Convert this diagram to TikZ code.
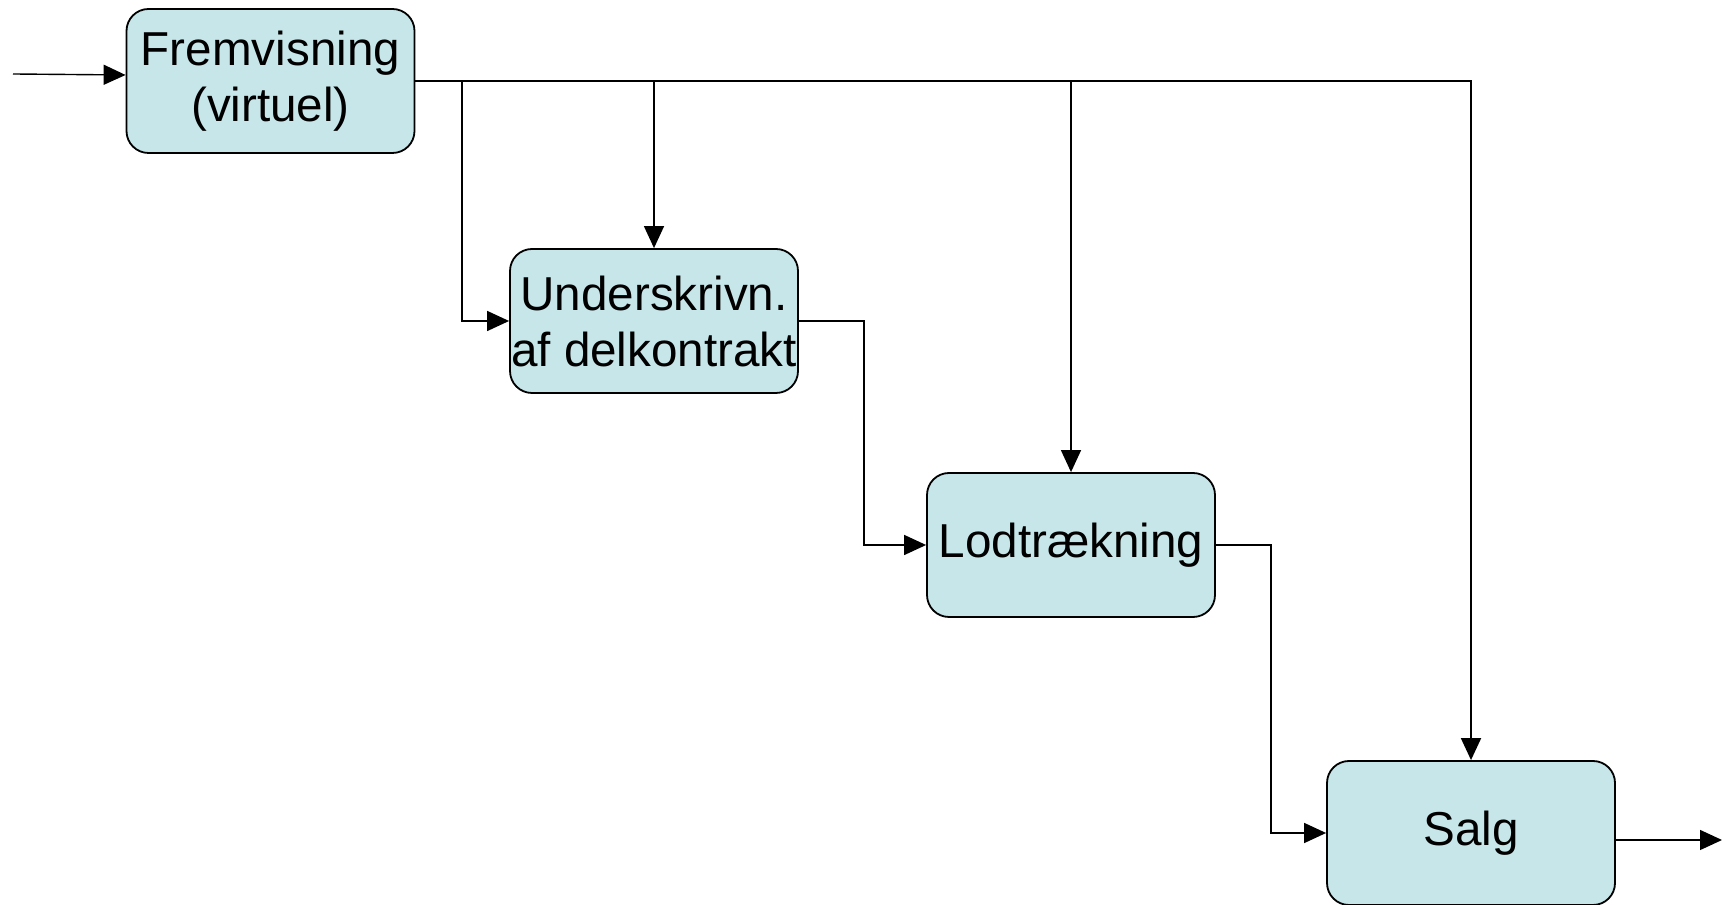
\documentclass[tikz,border=0pt]{standalone}
\usepackage{fontspec}
\setmainfont{Liberation Sans}
\usetikzlibrary{positioning,arrows.meta}

\tikzset{
    stepbox/.style={draw, line width=0.9pt, rounded corners=11pt, fill=boxblue,
        minimum width=144pt, minimum height=72pt, inner xsep=0pt, align=center,
        font=\fontsize{23.8}{28}\selectfont},
    flow/.style={-{Triangle[length=11pt,width=10pt]}, line width=0.7pt}
}
\definecolor{boxblue}{RGB}{198,230,233}

\begin{document}
\begin{tikzpicture}
                \useasboundingbox (0,0) rectangle (861pt,452pt);
                \node [stepbox] (frem) at (135.25pt,411.5pt) {Fremvisning\\(virtuel)};
                \node [stepbox] (under) at (327pt,291.5pt) {Underskrivn.\\af delkontrakt};
                \node [stepbox] (lod) at (535.5pt,179.5pt) {Lodtrækning};
                \node [stepbox] (salg) at (735.5pt,35.5pt) {Salg};
                \coordinate (in) at (6.5pt,415pt);
                \coordinate (split) at (231pt,411.5pt);
                \coordinate (out) at (861pt,32pt);
                \draw [flow] (in) -- ([yshift=3pt]frem.west);
                \draw [flow, line width=0.9pt] (frem.east) -| (salg.north);
                \draw [flow] (split) |- (under.west);
                \draw [flow] (under.north |- frem.east) -- (under.north);
                \draw [flow] (lod.north |- frem.east) -- (lod.north);
                \draw [flow] (under.east) -- ++(32.5pt,0) |- (lod.west);
                \draw [flow] (lod.east) -- ++(27.5pt,0) |- (salg.west);
                \draw [flow] ([yshift=-3.5pt]salg.east) -- (out);
            \end{tikzpicture}
\end{document}
